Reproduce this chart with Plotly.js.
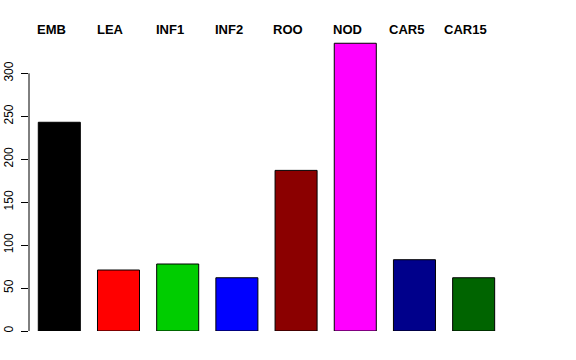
<!DOCTYPE html>
<html><head><meta charset="utf-8">
<script src="https://cdn.plot.ly/plotly-3.0.1.min.js"></script>
<style>body{margin:0;background:#fff}#plot{width:576px;height:360px}</style>
</head><body><div id="plot"></div>
<script>
const categories = ["EMB","LEA","INF1","INF2","ROO","NOD","CAR5","CAR15"];
const values = [243, 71, 78, 62, 187, 335, 83, 62];
const colors = ["#000000","#FF0000","#00CD00","#0000FF","#8B0000","#FF00FF","#00008B","#006400"];
const yTicks = [0, 50, 100, 150, 200, 250, 300];

const trace = {
  type: "bar",
  x: categories.map((c, i) => i),
  y: values,
  width: 0.71,
  marker: {color: colors, line: {color: "#000000", width: 1}},
  hoverinfo: "skip"
};

const labelFont = {family: "Liberation Sans, Arial, sans-serif", size: 13, color: "#000", weight: "bold"};

const layout = {
  width: 576, height: 360,
  margin: {l: 29, r: 10, t: 40, b: 29},
  paper_bgcolor: "#fff", plot_bgcolor: "#fff",
  showlegend: false,
  xaxis: {
    range: [-0.512, 8.56],
    showticklabels: false, ticks: "",
    showgrid: false, zeroline: false, showline: false, fixedrange: true
  },
  yaxis: {
    range: [0, 338.8],
    tickmode: "array",
    tickvals: yTicks,
    ticktext: yTicks.map(String),
    ticks: "outside", ticklen: 7, tickcolor: "#000", tickwidth: 1,
    tickangle: -90,
    ticklabelstandoff: 3,
    tickfont: {family: "Liberation Sans, Arial, sans-serif", size: 12, color: "#000"},
    showgrid: false, zeroline: false, showline: false, fixedrange: true
  },
  annotations: categories.map((c, i) => ({
    x: i, xref: "x", y: 1, yref: "paper",
    text: c, showarrow: false, font: labelFont,
    xanchor: "center", yanchor: "middle", xshift: -8, yshift: 11
  })),
  shapes: [{
    type: "line", xref: "paper", yref: "y",
    x0: 0, x1: 0, y0: yTicks[0], y1: yTicks[yTicks.length - 1],
    line: {color: "#000", width: 1}
  }]
};

Plotly.newPlot("plot", [trace], layout, {staticPlot: true, displayModeBar: false});
</script>
</body></html>
